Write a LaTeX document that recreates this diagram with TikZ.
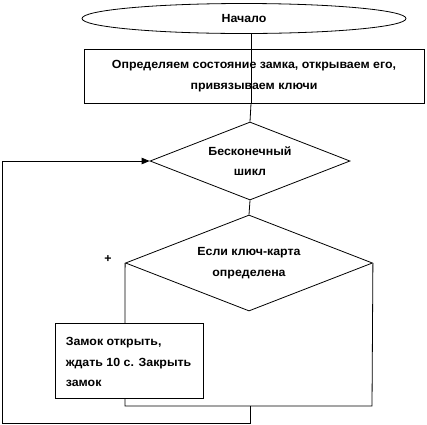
\documentclass[tikz,border=0pt]{standalone}
\usepackage{fontspec}
\setmainfont{Liberation Sans}[FakeStretch=1.05]
\usetikzlibrary{shapes.geometric,arrows.meta}
\begin{document}
\begin{tikzpicture}[x=1pt,y=-1pt,
  every node/.style={font=\fontsize{11.8}{20.5}\selectfont\bfseries},
  shp/.style={draw, line width=0.8pt, inner sep=0pt, fill=white},
  line/.style={draw, line width=0.8pt},
  arr/.style={line, -{Triangle[length=8pt,width=6.5pt]}}]
\useasboundingbox (0,0) rectangle (427,424);
% shapes
\node[shp, ellipse, minimum width=324pt, minimum height=30pt] (start) at (244,18.5) {Начало};
\node[shp, rectangle, minimum width=340pt, minimum height=54pt, align=center] (act1) at (254,76)
  {Определяем состояние замка, открываем его,\\привязываем ключи};
\node[shp, diamond, aspect=2.56, minimum width=200pt, minimum height=78pt, align=center] (loop) at (250,161)
  {Бесконечный\\шикл};
\node[shp, diamond, aspect=2.57, minimum width=247pt, minimum height=96pt, align=center] (cond) at (249,263)
  {Если ключ-карта\\определена};
\coordinate (spine) at (251,0);
\coordinate (bl) at (125,406);
\coordinate (br) at (372,406);
\coordinate (bm) at (250,406);
\coordinate (lb) at (250,423);
\coordinate (lc) at (2,423);
\coordinate (lt) at (2,161);
% connectors
\draw[line] (start.south -| spine) -- (act1.south -| spine);
\draw[line] (act1.south -| spine) -- (loop.north);
\draw[line] (loop.south) -- (cond.north);
\draw[line] (cond.west) -- (bl) -- (br) -- (cond.east);
\draw[line] (bm) -- (lb) -- (lc) -- (lt);
\draw[arr] (lt) -- (loop.west);
\node[shp, rectangle, minimum width=148pt, minimum height=75pt] (act2) at (129,360.5) {};
\node[anchor=west, inner sep=0pt, align=left] (act2text) at ([xshift=11pt,yshift=-1.5pt]act2.west)
  {Замок открыть,\\ждать 10 с. Закрыть\\замок};
\node (plus) at (108,259) {+};
\end{tikzpicture}
\end{document}
